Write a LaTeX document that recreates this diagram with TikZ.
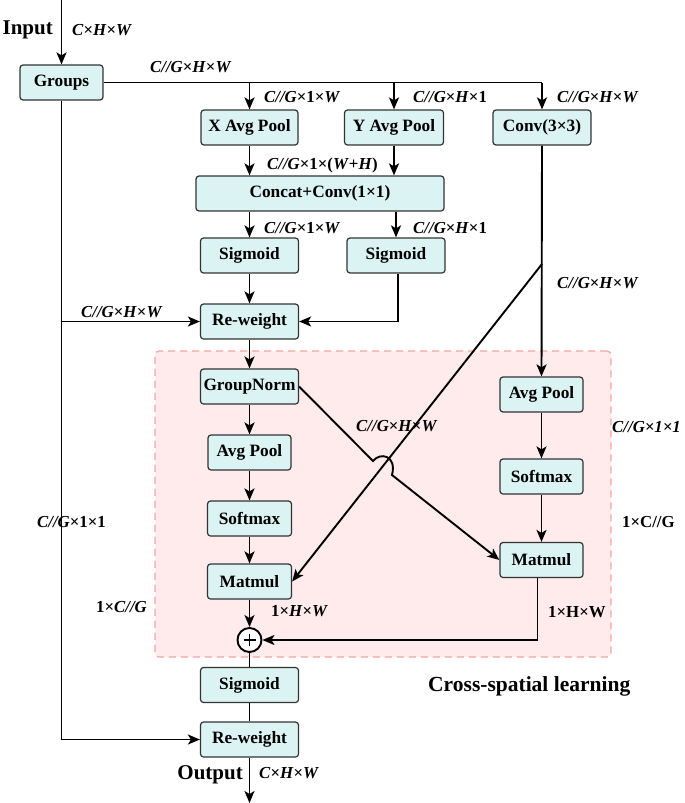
\documentclass[tikz,border=0pt]{standalone}
\usepackage{fontspec}
\setmainfont{Liberation Serif}
\usetikzlibrary{arrows.meta}
\definecolor{boxfill}{HTML}{DBF3F3}
\definecolor{boxline}{HTML}{333333}
\definecolor{regfill}{HTML}{FFEBEB}
\definecolor{regline}{HTML}{F4A5A5}
\tikzset{
  blk/.style={draw=boxline, fill=boxfill, rounded corners=3pt, line width=1.2pt,
    minimum height=35pt, inner sep=0pt, font=\fontsize{17.3}{17.3}\selectfont\bfseries},
  arr/.style={-{Stealth[length=12pt,width=10pt,inset=3pt]}},
  ln/.style={line width=1.9pt, black},
  lbl/.style={anchor=west, inner sep=0pt, font=\fontsize{16.8}{16.8}\selectfont\bfseries},
  big/.style={inner sep=0pt, font=\fontsize{21}{21}\selectfont\bfseries},
  region/.style={draw=regline, fill=regfill, dashed, dash pattern=on 7pt off 5pt, line width=1.3pt, rounded corners=4pt}
}
\begin{document}
\begin{tikzpicture}[x=1pt,y=-1pt]
\useasboundingbox (0,0) rectangle (685,803);
% cross-spatial region
\node[region, minimum width=456pt, minimum height=306pt, inner sep=0pt] (cs) at (383,504) {};

% blocks
\node[blk, minimum width=83pt] (groups) at (61.5,82.5) {Groups};
\node[blk, minimum width=97pt] (xavg) at (249.5,127.5) {X Avg Pool};
\node[blk, minimum width=99pt] (yavg) at (394,127.5) {Y Avg Pool};
\node[blk, minimum width=98pt] (conv3) at (542,127.5) {Conv(3×3)};
\node[blk, minimum width=248pt] (concat) at (320,193.5) {Concat+Conv(1×1)};
\node[blk, minimum width=98pt] (sigL) at (249.5,255.5) {Sigmoid};
\node[blk, minimum width=98pt] (sigR) at (396,255.5) {Sigmoid};
\node[blk, minimum width=98pt] (rw1) at (249.5,321.5) {Re-weight};
\node[blk, minimum width=98pt] (gn) at (249.5,386.5) {GroupNorm};
\node[blk, minimum width=83pt] (apL) at (249.5,452.5) {Avg Pool};
\node[blk, minimum width=84pt] (smL) at (249.5,518.5) {Softmax};
\node[blk, minimum width=84pt] (mmL) at (249.5,581.5) {Matmul};
\node[blk, minimum width=83pt] (apR) at (541.5,394.5) {Avg Pool};
\node[blk, minimum width=83pt] (smR) at (541.5,476.5) {Softmax};
\node[blk, minimum width=83pt] (mmR) at (541.5,560) {Matmul};
\node[draw=black, fill=white, circle, line width=1.9pt, minimum size=24pt, inner sep=0pt] (plus) at (249.5,640) {};
\draw[line width=1.1pt] ([xshift=-6pt]plus.center) -- ([xshift=6pt]plus.center) ([yshift=-6pt]plus.center) -- ([yshift=6pt]plus.center);
\node[blk, minimum width=98pt] (sig2) at (249.5,685) {Sigmoid};
\node[blk, minimum width=98pt] (rw2) at (249.5,739.5) {Re-weight};

% coordinates
\coordinate (top) at (61.5,0);
\coordinate (bot) at (249.5,803);
\coordinate (busend) at (542,82.5);
\coordinate (dg) at (542,264);
\coordinate (hopA) at (373,461);
\coordinate (hopB) at (392,475);

% connectors
\draw[ln,arr] (top) -- (groups.north);
\draw[ln] (groups.east) -- (busend);
\draw[ln,arr] (groups.east -| xavg.north) -- (xavg.north);
\draw[ln,arr] (groups.east -| yavg.north) -- (yavg.north);
\draw[ln,arr] (busend) -- (conv3.north);
\draw[ln,arr] (xavg.south) -- (xavg.south |- concat.north);
\draw[ln,arr] (yavg.south) -- (yavg.south |- concat.north);
\draw[ln,arr] (concat.south -| sigL.north) -- (sigL.north);
\draw[ln,arr] (concat.south -| sigR.north) -- (sigR.north);
\draw[ln,arr] (sigL.south) -- (rw1.north);
\draw[ln,arr] ([xshift=2pt]sigR.south) |- (rw1.east);
\draw[ln,arr] (groups.south) |- (rw2.west);
\draw[ln,arr] (groups.south |- rw1.west) -- (rw1.west);
\draw[ln,arr] (rw1.south) -- (gn.north);
\draw[ln,arr] (gn.south) -- (apL.north);
\draw[ln,arr] (apL.south) -- (smL.north);
\draw[ln,arr] (smL.south) -- (mmL.north);
\draw[ln,arr] (mmL.south) -- (plus.north);
\draw[ln] (plus.south) -- (sig2.north);
\draw[ln] (sig2.south) -- (rw2.north);
\draw[ln,arr] (rw2.south) -- (bot);
\draw[ln,arr] (conv3.south) -- (apR.north);
\draw[ln,arr] (apR.south) -- (smR.north);
\draw[ln,arr] (smR.south) -- (mmR.north);
\draw[ln,arr] ([xshift=-4pt]mmR.south) |- (plus.east);
\draw[ln,arr] (dg) -- (mmL.east);
\draw[ln,arr] (gn.east) -- (hopA) .. controls (380,452) and (397,455) .. (hopB) -- (mmR.west);

% labels
\node[big, anchor=east] (lin) at (53,30) {Input};
\node[lbl] (l1) at (72,30) {\textit{C}×\textit{H}×\textit{W}};
\node[lbl] (l2) at (150,67) {\textit{C//G}×\textit{H}×\textit{W}};
\node[lbl] (l3) at (264,97) {\textit{C//G}×1×\textit{W}};
\node[lbl] (l4) at (413,97) {\textit{C//G}×\textit{H}×1};
\node[lbl] (l5) at (557,97) {\textit{C//G}×\textit{H}×\textit{W}};
\node[lbl] (l6) at (267,165) {\textit{C//G}×1×(\textit{W}+\textit{H})};
\node[lbl] (l7) at (264,228) {\textit{C//G}×1×\textit{W}};
\node[lbl] (l8) at (413,228) {\textit{C//G}×\textit{H}×1};
\node[lbl] (l9) at (557,283) {\textit{C//G}×\textit{H}×\textit{W}};
\node[lbl] (l10) at (81,312) {\textit{C//G}×\textit{H}×\textit{W}};
\node[lbl] (l11) at (356,426) {\textit{C//G}×\textit{H}×\textit{W}};
\node[lbl] (l12) at (612,427) {\textit{C//G×1×1}};
\node[lbl] (l13) at (622,522) {1×C//G};
\node[lbl] (l14) at (37,522) {\textit{C//G}×1×1};
\node[lbl] (l15) at (96,607) {1×\textit{C//G}};
\node[lbl] (l16) at (271,611) {1×\textit{H}×\textit{W}};
\node[lbl] (l17) at (548,612) {1×H×W};
\node[big, anchor=west, font=\fontsize{21.5}{21.5}\selectfont\bfseries] (lcs) at (428,686) {Cross-spatial learning};
\node[big, anchor=east] (lout) at (243,775) {Output};
\node[lbl] (l18) at (259,773) {\textit{C}×\textit{H}×\textit{W}};
\end{tikzpicture}
\end{document}
